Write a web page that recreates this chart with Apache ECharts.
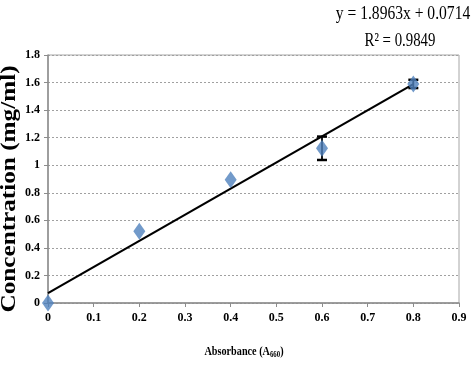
<!DOCTYPE html>
<html><head><meta charset="utf-8">
<script src="https://cdn.jsdelivr.net/npm/echarts@6/dist/echarts.min.js"></script>
<style>html,body{margin:0;padding:0;background:#fff}#c{width:474px;height:366px}</style>
</head><body><div id="c"></div>
<script>
const absorbance = [0, 0.2, 0.4, 0.6, 0.8];
const concentration = [0, 0.52, 0.895, 1.123, 1.59];
const errorMargin = [0, 0, 0, 0.085, 0.03];
const slope = 1.8963, intercept = 0.0714;
const trendX = [0, 0.8];
const xTicks = [0, 0.9, 0.1];
const yTicks = [0, 1.8, 0.2];

const chart = echarts.init(document.getElementById('c'));
const serif = '"Liberation Serif", "Times New Roman", serif';
const errData = absorbance.map((x, i) => [x, concentration[i] - errorMargin[i], concentration[i] + errorMargin[i]]).filter((d, i) => errorMargin[i] > 0);
chart.setOption({
  animation: false,
  grid: {left: 48, right: 15, top: 55, bottom: 63, show: true, borderColor: '#a6a6a6', borderWidth: 1},
  xAxis: {type: 'value', min: xTicks[0], max: xTicks[1], interval: xTicks[2],
    axisLine: {show: true, lineStyle: {color: '#8c8c8c', width: 1.5}},
    axisTick: {show: true, length: 4, lineStyle: {color: '#8c8c8c'}},
    splitLine: {show: false},
    axisLabel: {color: '#000', fontFamily: serif, fontWeight: 'bold', fontSize: 12, margin: 9}},
  yAxis: {type: 'value', min: yTicks[0], max: yTicks[1], interval: yTicks[2],
    axisLine: {show: true, lineStyle: {color: '#8c8c8c', width: 1.5}},
    axisTick: {show: true, length: 4, lineStyle: {color: '#8c8c8c'}},
    splitLine: {show: true, lineStyle: {color: '#a0a0a0', type: [2, 2], width: 1}},
    axisLabel: {color: '#000', fontFamily: serif, fontWeight: 'bold', fontSize: 12, margin: 8}},
  series: [
    {type: 'line', data: trendX.map(x => [x, slope * x + intercept]), symbol: 'none',
     lineStyle: {color: '#000', width: 2.2}, z: 3},
    {type: 'custom', data: errData, z: 4,
     renderItem: function (params, api) {
       const top = api.coord([api.value(0), api.value(2)]);
       const bot = api.coord([api.value(0), api.value(1)]);
       const w = 5;
       const s = {stroke: '#000', lineWidth: 1.8};
       return {type: 'group', children: [
         {type: 'line', shape: {x1: top[0], y1: top[1], x2: bot[0], y2: bot[1]}, style: s},
         {type: 'line', shape: {x1: top[0] - w, y1: top[1], x2: top[0] + w, y2: top[1]}, style: {stroke: '#000', lineWidth: 2.5}},
         {type: 'line', shape: {x1: bot[0] - w, y1: bot[1], x2: bot[0] + w, y2: bot[1]}, style: {stroke: '#000', lineWidth: 2.5}}
       ]};
     }},
    {type: 'scatter', data: absorbance.map((x, i) => [x, concentration[i]]), symbol: 'diamond',
     symbolSize: [12, 17], itemStyle: {color: '#4f81bd'}, z: 5}
  ],
  graphic: [
    {type: 'text', x: 10, y: 189, rotation: Math.PI / 2, scaleX: 1.2,
     style: {text: 'Concentration (mg/ml)', font: 'bold 21px ' + serif, fill: '#000', textAlign: 'center', textVerticalAlign: 'middle'}},
    {type: 'text', x: 244, y: 352, scaleX: 0.85,
     style: {text: 'Absorbance (A{s|660})', font: 'bold 12px ' + serif, fill: '#000', textAlign: 'center', textVerticalAlign: 'middle',
       rich: {s: {fontFamily: serif, fontWeight: 'bold', fontSize: 8, padding: [6, 0, 0, 0]}}}},
    {type: 'text', x: 403, y: 14, scaleX: 0.82,
     style: {text: 'y = 1.8963x + 0.0714', font: '19px ' + serif, fill: '#000', textAlign: 'center', textVerticalAlign: 'middle'}},
    {type: 'text', x: 400, y: 41, scaleX: 0.78,
     style: {text: 'R² = 0.9849', font: '19px ' + serif, fill: '#000', textAlign: 'center', textVerticalAlign: 'middle'}}
  ]
});
</script></body></html>
